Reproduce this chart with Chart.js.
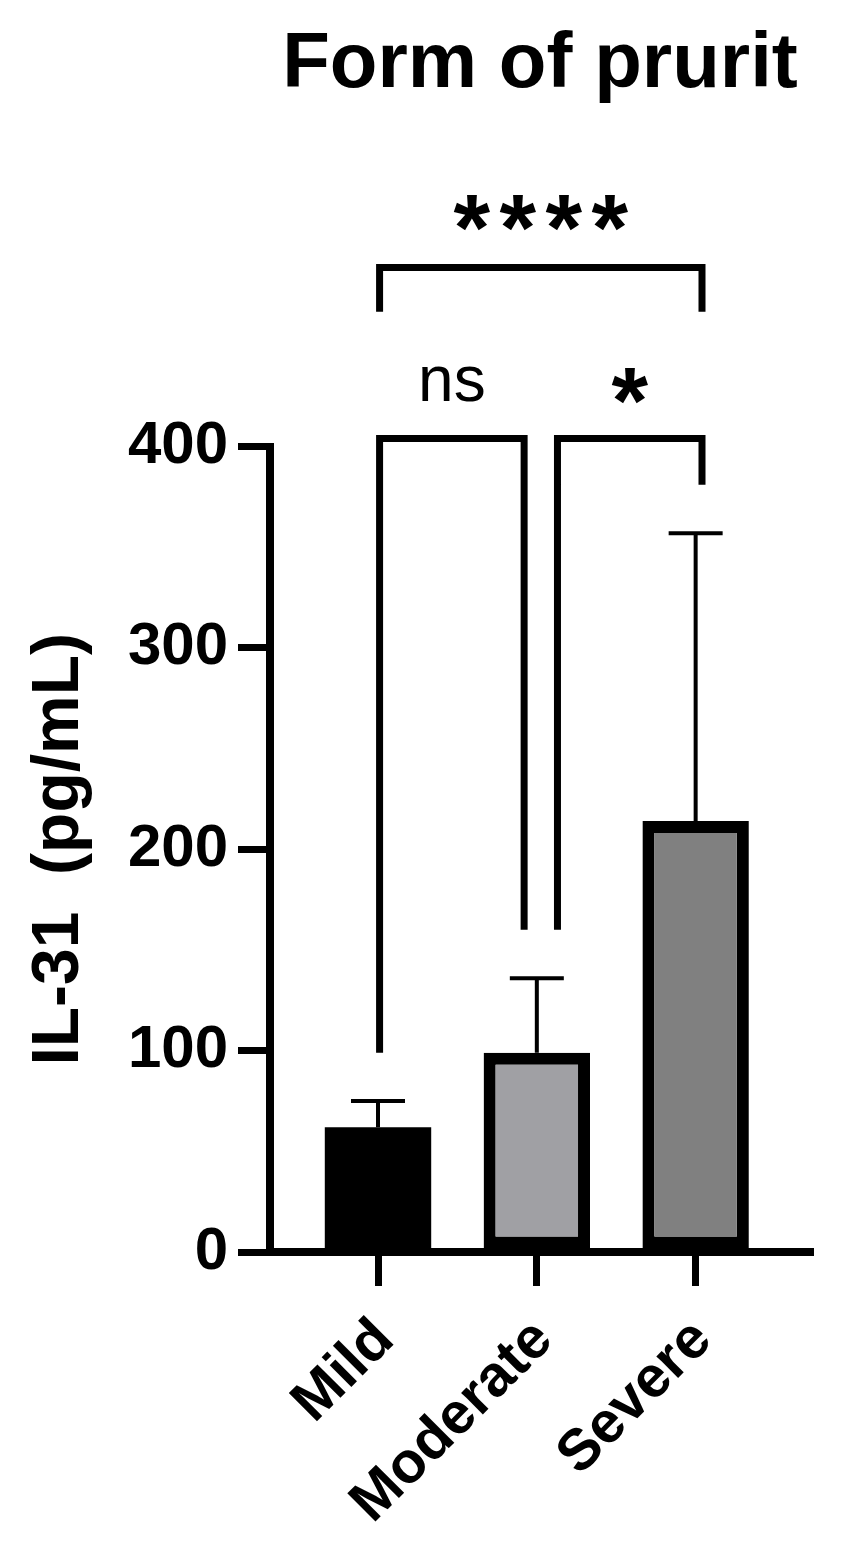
<!DOCTYPE html>
<html>
<head>
<meta charset="utf-8">
<script src="https://cdn.jsdelivr.net/npm/chart.js@4.4.0/dist/chart.umd.min.js"></script>
<style>
  html, body { margin: 0; padding: 0; background: #fff; }
  #wrap { width: 855px; height: 1564px; }
</style>
</head>
<body>
<div id="wrap"><canvas id="il31Chart"></canvas></div>
<script>
const categories = ['Mild', 'Moderate', 'Severe'];
const means = [62, 99, 214];
const sdUpper = [75, 136, 357];
const yTicks = [0, 100, 200, 300, 400];
const barColors = ['#000000', '#a0a0a4', '#808080'];

// significance brackets (x in category position, y in pg/mL)
const bracketLabels = ['ns', '*', '****'];
const bracketFrom = [1.01, 2.13, 1.01];
const bracketTo = [1.92, 3.04, 3.04];
const bracketTop = [404, 404, 489];
const bracketLeftEnd = [99, 160, 467];
const bracketRightEnd = [160, 381, 467];
const bracketTextY = [431, 430, 516];

const FONT = '"Liberation Sans", Arial, sans-serif';
const STAR_STEP = 46;

const annotate = {
    id: 'annotate',
    beforeDatasetsDraw(chart) {
        const { ctx, scales: { x, y } } = chart;
        ctx.save();
        ctx.strokeStyle = '#000';
        ctx.lineWidth = 4;
        means.forEach((m, i) => {
            const px = x.getPixelForValue(i + 1);
            const y0 = y.getPixelForValue(m);
            const y1 = y.getPixelForValue(sdUpper[i]);
            ctx.beginPath();
            ctx.moveTo(px, y0);
            ctx.lineTo(px, y1);
            ctx.moveTo(px - 27, y1);
            ctx.lineTo(px + 27, y1);
            ctx.stroke();
        });
        ctx.restore();
    },
    afterDraw(chart) {
        const { ctx, scales: { x, y } } = chart;
        ctx.save();
        ctx.strokeStyle = '#000';
        ctx.fillStyle = '#000';
        ctx.lineWidth = 7;
        ctx.lineJoin = 'miter';
        ctx.lineCap = 'butt';
        ctx.textAlign = 'center';
        ctx.textBaseline = 'alphabetic';
        bracketLabels.forEach((label, i) => {
            const xl = x.getPixelForValue(bracketFrom[i]);
            const xr = x.getPixelForValue(bracketTo[i]);
            const yt = y.getPixelForValue(bracketTop[i]);
            ctx.beginPath();
            ctx.moveTo(xl, y.getPixelForValue(bracketLeftEnd[i]));
            ctx.lineTo(xl, yt);
            ctx.lineTo(xr, yt);
            ctx.lineTo(xr, y.getPixelForValue(bracketRightEnd[i]));
            ctx.stroke();

            const cx = (xl + xr) / 2;
            const cy = y.getPixelForValue(bracketTextY[i]);
            if (label === 'ns') {
                ctx.font = `64px ${FONT}`;
                const m = ctx.measureText(label);
                ctx.fillText(label, cx, cy + (m.actualBoundingBoxAscent - m.actualBoundingBoxDescent) / 2);
            } else {
                // asterisks drawn one by one, evenly spaced
                ctx.font = `bold 94px ${FONT}`;
                const m = ctx.measureText('*');
                const by = cy + (m.actualBoundingBoxAscent - m.actualBoundingBoxDescent) / 2;
                const n = label.length;
                for (let k = 0; k < n; k++) {
                    ctx.fillText('*', cx + (k - (n - 1) / 2) * STAR_STEP, by);
                }
            }
        });
        ctx.restore();
    }
};

const tickGrid = (len) => ({
    display: true,
    offset: false,
    drawOnChartArea: false,
    drawTicks: true,
    tickLength: len,
    lineWidth: 7,
    color: '#000'
});

new Chart(document.getElementById('il31Chart').getContext('2d'), {
    type: 'bar',
    data: {
        datasets: [{
            data: categories.map((c, i) => ({ x: i + 1, y: means[i] })),
            backgroundColor: barColors,
            borderColor: '#000',
            borderWidth: [0, 12, 12],
            borderSkipped: false,
            barPercentage: 0.67,
            categoryPercentage: 1
        }]
    },
    options: {
        responsive: true,
        maintainAspectRatio: false,
        animation: false,
        layout: { padding: { top: 0, right: 45, bottom: 0, left: 0 } },
        plugins: {
            legend: { display: false },
            tooltip: { enabled: false },
            title: {
                display: true,
                text: 'Form of prurit',
                fullSize: false,
                color: '#000',
                font: { family: FONT, size: 78, weight: 'bold' },
                padding: { top: 19, bottom: 334 }
            }
        },
        scales: {
            x: {
                type: 'linear',
                offset: false,
                min: 0.32,
                max: 3.72,
                afterBuildTicks: s => { s.ticks = categories.map((c, i) => ({ value: i + 1 })); },
                afterFit: s => { s.height = 312; },
                grid: tickGrid(34),
                border: { display: true, width: 8, color: '#000' },
                ticks: {
                    autoSkip: false,
                    minRotation: 45,
                    maxRotation: 45,
                    padding: 20,
                    labelOffset: 7,
                    color: '#000',
                    font: { family: FONT, size: 58, weight: 'bold' },
                    callback: v => categories[v - 1]
                }
            },
            y: {
                min: 0,
                max: 400,
                afterBuildTicks: s => { s.ticks = yTicks.map(v => ({ value: v })); },
                afterFit: s => { s.width = 270; },
                grid: tickGrid(32),
                border: { display: true, width: 8, color: '#000' },
                ticks: {
                    padding: 10,
                    color: '#000',
                    font: { family: FONT, size: 60, weight: 'bold' }
                },
                title: {
                    display: true,
                    text: 'IL-31  (pg/mL)',
                    color: '#000',
                    font: { family: FONT, size: 66, weight: 'bold' },
                    padding: { top: 20, bottom: 0 }
                }
            }
        }
    },
    plugins: [annotate]
});
</script>
</body>
</html>
